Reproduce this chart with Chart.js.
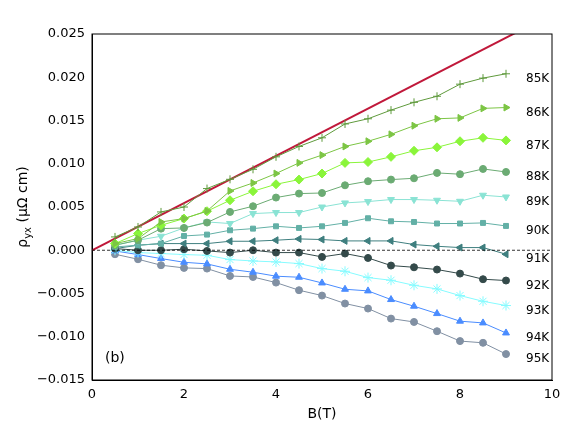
<!DOCTYPE html><html><head><script src="https://cdn.jsdelivr.net/npm/chart.js@4"></script>
<style>body{margin:0;background:#fff}</style></head><body>
<div style="width:576px;height:432px"><canvas id="c" width="576" height="432"></canvas></div>
<script>
const B=[0.5,1,1.5,2,2.5,3,3.5,4,4.5,5,5.5,6,6.5,7,7.5,8,8.5,9];
const labels=['85K','86K','87K','88K','89K','90K','91K','92K','93K','94K','95K'];
const v85=[1.54,2.69,4.43,5.0,7.13,8.2,9.36,10.8,12.0,13.0,14.6,15.2,16.2,17.1,17.8,19.2,19.9,20.4];
const v86=[0.77,1.35,3.27,3.66,4.54,6.86,7.78,8.87,10.1,11.0,12.0,12.6,13.4,14.4,15.2,15.3,16.4,16.5];
const v87=[0.77,1.93,2.89,3.66,4.51,5.78,6.82,7.63,8.17,8.87,10.1,10.2,10.8,11.5,11.9,12.6,13.0,12.7];
const v88=[0.58,1.16,2.5,2.58,3.2,4.43,5.09,6.09,6.55,6.62,7.51,7.98,8.17,8.32,8.94,8.79,9.4,9.05];
const v89=[0.58,1.16,1.62,2.58,3.27,3.09,4.24,4.36,4.36,5.0,5.47,5.63,5.86,5.86,5.78,5.66,6.36,6.16];
const v90=[0.38,0.58,0.77,1.65,1.81,2.31,2.5,2.77,2.58,2.77,3.16,3.7,3.35,3.27,3.09,3.09,3.16,2.81];
const v91=[0.19,0.58,0.77,0.77,0.77,1.04,1.04,1.16,1.31,1.24,1.08,1.08,1.08,0.66,0.46,0.31,0.31,-0.46];
const v92=[0.19,0,0,0.12,-0.08,-0.27,0,-0.27,-0.27,-0.77,-0.38,-0.89,-1.77,-1.97,-2.23,-2.7,-3.35,-3.5];
const v93=[0,-0.27,-0.38,-0.5,-0.58,-1.08,-1.24,-1.35,-1.54,-2.12,-2.43,-3.16,-3.47,-4.05,-4.47,-5.24,-5.9,-6.39];
const v94=[-0.08,-0.5,-0.96,-1.39,-1.58,-2.2,-2.54,-3.0,-3.12,-3.78,-4.51,-4.7,-5.7,-6.47,-7.32,-8.2,-8.4,-9.56];
const v95=[-0.46,-1.04,-1.73,-2.04,-2.12,-2.97,-3.09,-3.74,-4.62,-5.24,-6.16,-6.74,-7.9,-8.29,-9.36,-10.5,-10.7,-12.0];
const lineX=[0,10], lineY=[0,0.0273];
const series=[v85,v86,v87,v88,v89,v90,v91,v92,v93,v94,v95];
const colors=['#5f9a3c','#7cc544','#8af53a','#6bab73','#8ae3d4','#63b0a6','#3f7f7f','#344a4a','#86fbff','#4a8cff','#8190a3'];
const styles=[['cross',0,4],['triangle',90,4],['rectRot',0,4.5],['circle',0,3.5],['triangle',180,4],['rect',0,3.5],['triangle',-90,4],['circle',0,3.5],['star',0,5],['triangle',0,4],['circle',0,3.5]];
const ds=series.map((s,i)=>({label:labels[i],data:s.map((v,j)=>({x:B[j],y:v/1000})),borderColor:colors[i],backgroundColor:colors[i],
 borderWidth:1,pointStyle:styles[i][0],rotation:styles[i][1],pointRadius:styles[i][2],pointBorderWidth:1}));
ds.push({label:'line',data:lineX.map((x,i)=>({x,y:lineY[i]})),borderColor:'#c0183a',borderWidth:2,pointRadius:0});
const deco={id:'deco',afterDatasetsDraw(ch){const c=ch.ctx,xs=ch.scales.x,ys=ch.scales.y,a=ch.chartArea;
 c.save();c.strokeStyle='#000';c.lineWidth=0.8;c.setLineDash([3,2]);c.beginPath();c.moveTo(a.left,ys.getPixelForValue(0));c.lineTo(a.right,ys.getPixelForValue(0));c.stroke();c.setLineDash([]);
 c.lineWidth=1;c.strokeRect(a.left,a.top,a.right-a.left,a.bottom-a.top);
 c.fillStyle='#000';c.font='12px DejaVu Sans';c.textBaseline='middle';
 series.forEach((s,i)=>{let y=ys.getPixelForValue(s[s.length-1]/1000);c.fillText(labels[i],xs.getPixelForValue(B[B.length-1])+20,y+5);});
 c.font='14px DejaVu Sans';c.fillText('(b)',a.left+13,a.bottom-22);
 c.textAlign='center';c.textBaseline='alphabetic';c.fillText('B(T)',(a.left+a.right)/2,a.bottom+38);
 c.translate(22,(a.top+a.bottom)/2);c.rotate(-Math.PI/2);c.textAlign='left';
 const parts=[['ρ',14,0],['yx',10,4],[' (μΩ cm)',14,0]];let w=0;parts.forEach(p=>{c.font=p[1]+'px DejaVu Sans';w+=c.measureText(p[0]).width;});
 let x=-w/2;parts.forEach(p=>{c.font=p[1]+'px DejaVu Sans';c.fillText(p[0],x,5+p[2]);x+=c.measureText(p[0]).width;});
 c.restore();}};
new Chart(document.getElementById('c'),{type:'scatter',data:{datasets:ds},plugins:[deco],
 options:{responsive:false,animation:false,showLine:true,layout:{padding:{left:0,right:24,top:34,bottom:0}},
 plugins:{legend:{display:false},tooltip:{enabled:false}},
 scales:{x:{type:'linear',min:0,max:10,afterFit(s){s.height=52;},grid:{display:false,drawTicks:true,tickLength:4,tickColor:'#000'},border:{color:'#000'},
   ticks:{stepSize:2,color:'#000',font:{size:13,family:'DejaVu Sans'}}},
  y:{min:-0.015,max:0.025,afterFit(s){s.width=92;},grid:{display:false,tickLength:4,tickColor:'#000'},border:{color:'#000'},
   ticks:{stepSize:0.005,color:'#000',font:{size:13,family:'DejaVu Sans'},callback:v=>(v<0?'−':'')+Math.abs(v).toFixed(3)}}}}});
</script></body></html>
